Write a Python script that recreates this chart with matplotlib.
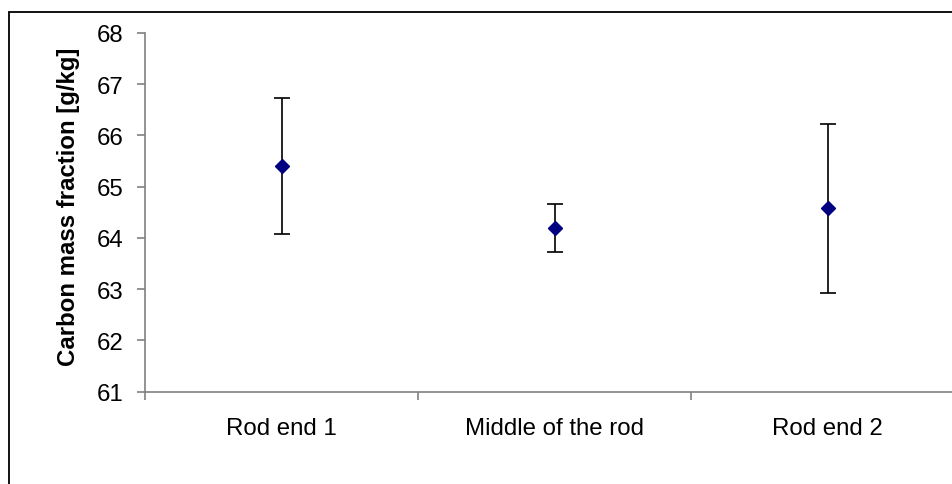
import numpy as np
import matplotlib
matplotlib.use("Agg")
import matplotlib.pyplot as plt
from matplotlib.patches import Rectangle

# datos
categorias = ["Rod end 1", "Middle of the rod", "Rod end 2"]
valores = [65.41, 64.19, 64.58]
errores = [1.33, 0.47, 1.65]

plt.rcParams["font.family"] = ["Liberation Sans", "DejaVu Sans"]

W, H = 952, 485
fig = plt.figure(figsize=(W / 100, H / 100), dpi=100)

# marco exterior estilo Excel (se corta a la derecha y abajo)
fig.patches.append(Rectangle((8.5 / W, -0.1), 1.2, (H - 12.5) / H + 0.1,
                             transform=fig.transFigure, fill=False,
                             edgecolor="black", linewidth=1.3))

izq, der, arr, aba = 145, 964, 34, 392.7
ax = fig.add_axes([izq / W, (H - aba) / H, (der - izq) / W, (aba - arr) / H])

x = np.arange(len(categorias))
ax.errorbar(x, valores, yerr=errores, fmt="none", ecolor="black",
            elinewidth=1.2, capsize=5.6, capthick=1.2, zorder=2)
ax.plot(x, valores, linestyle="none", marker="D", markersize=6.8,
        color="#000080", markeredgecolor="#000080", zorder=3)

ax.set_xlim(-0.5, len(categorias) - 0.5)
ax.set_ylim(61, 68)
ax.set_yticks(range(61, 69))
ax.set_xticks(np.arange(-0.5, len(categorias)), minor=False)
ax.set_xticklabels([])
ax.set_xticks(x, minor=True)
ax.set_xticklabels(categorias, minor=True)

for lado in ["top", "right"]:
    ax.spines[lado].set_visible(False)
for lado in ["left", "bottom"]:
    ax.spines[lado].set_color("#808080")
    ax.spines[lado].set_linewidth(1.2)

ax.tick_params(axis="y", direction="out", length=6, width=1.2, color="#808080",
               labelsize=17.3, pad=9.5)
ax.tick_params(axis="x", which="major", direction="out", length=6, width=1.2,
               color="#808080")
ax.tick_params(axis="x", which="minor", length=0, labelsize=17.3, pad=18)

ax.set_ylabel("Carbon mass fraction [g/kg]", fontsize=17.3, fontweight="bold")
ax.yaxis.set_label_coords(-0.079, 0.518)

fig.savefig("out.png", dpi=100)
